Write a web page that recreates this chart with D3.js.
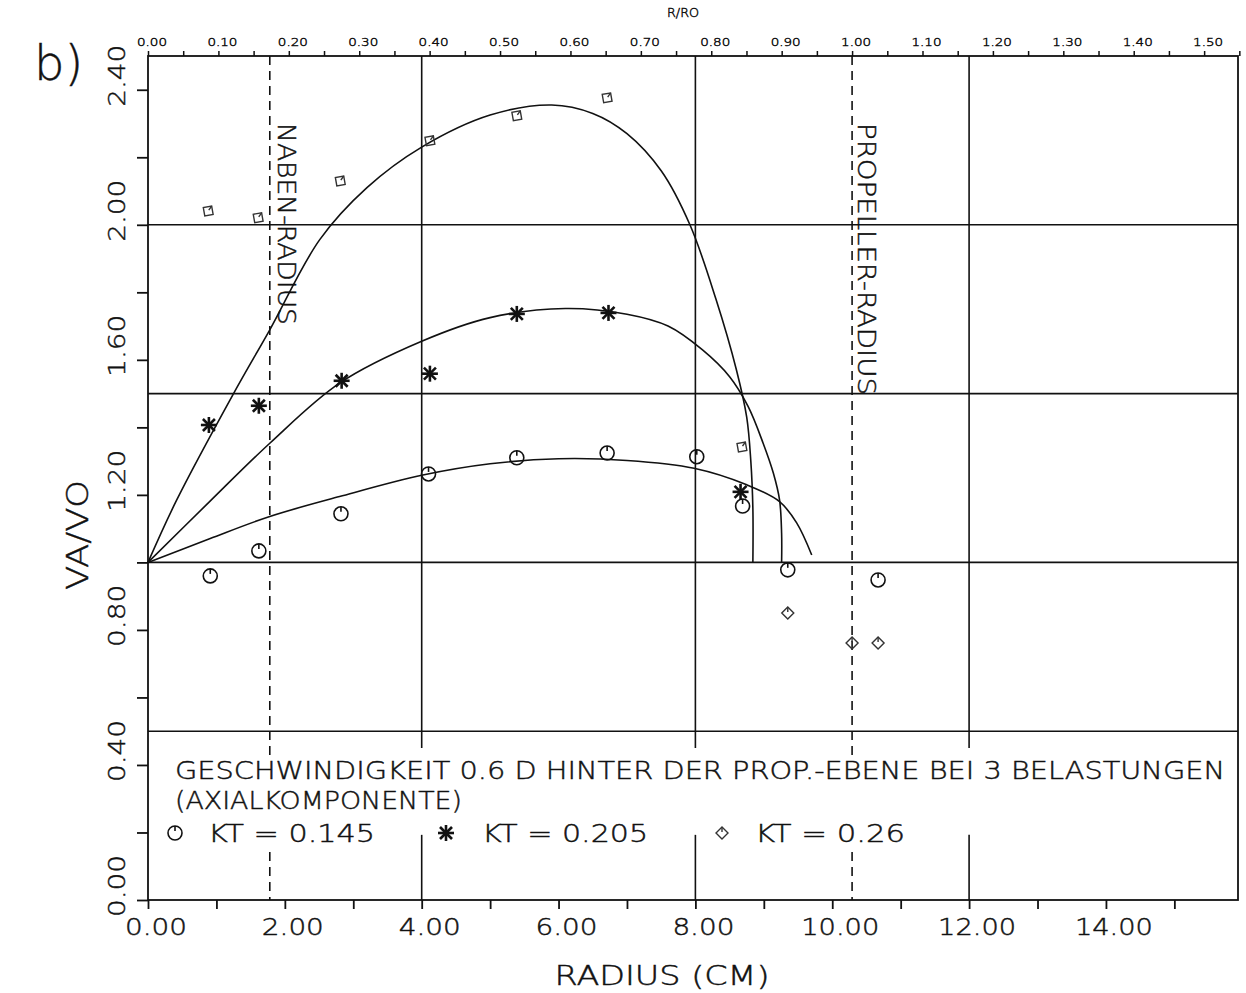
<!DOCTYPE html>
<html>
<head>
<meta charset="utf-8">
<script src="https://cdn.jsdelivr.net/npm/d3@7"></script>
<style>
  html, body { margin: 0; padding: 0; background: #fff; }
  svg { display: block; }
  .pt { font-family: "DejaVu Sans", "Liberation Sans", sans-serif; font-weight: 200; fill: #111; stroke: #111; stroke-width: 0.45; }
</style>
</head>
<body>
<svg id="chart" width="1246" height="993"></svg>
<script>
// ---- measured velocities VA/VO over radius (cm), three thrust loadings ----
const r145 = [0.91, 1.62, 2.82, 4.10, 5.39, 6.71, 8.02, 8.69, 9.35, 10.67];
const v145 = [0.96, 1.034, 1.144, 1.262, 1.31, 1.324, 1.313, 1.167, 0.978, 0.948];

const r205 = [0.89, 1.62, 2.83, 4.12, 5.39, 6.73, 8.66];
const v205 = [1.407, 1.464, 1.538, 1.559, 1.736, 1.739, 1.209];

const r26 = [0.88, 1.61, 2.81, 4.12, 5.39, 6.71, 8.68, 9.35, 10.29, 10.67];
const v26 = [2.041, 2.021, 2.13, 2.249, 2.323, 2.376, 1.342, 0.85, 0.761, 0.761];

// ---- faired curves through the measurements ----
const fitR145 = [0, 0.9, 1.78, 2.8, 4.0, 5.0, 6.0, 7.0, 7.98, 8.75, 9.23, 9.48, 9.70];
const fitV145 = [1.0, 1.07, 1.136, 1.195, 1.258, 1.292, 1.307, 1.302, 1.279, 1.23, 1.18, 1.117, 1.022];

const fitR205 = [0, 0.9, 1.78, 2.8, 4.0, 5.0, 6.1, 7.0, 7.6, 8.1, 8.5, 8.77, 8.99, 9.14, 9.23, 9.26, 9.26];
const fitV205 = [1.0, 1.18, 1.353, 1.531, 1.655, 1.725, 1.752, 1.735, 1.70, 1.63, 1.55, 1.462, 1.353, 1.264, 1.185, 1.086, 1.0];

const fitR26 = [0, 0.42, 1.25, 1.78, 2.51, 3.2, 4.0, 5.0, 5.9, 6.5, 7.0, 7.5, 7.92, 8.3, 8.6, 8.75, 8.81, 8.84, 8.84];
const fitV26 = [1.0, 1.185, 1.50, 1.689, 1.956, 2.11, 2.23, 2.325, 2.355, 2.33, 2.27, 2.16, 2.0, 1.78, 1.57, 1.43, 1.30, 1.16, 1.0];

// ---- axes, reference lines and labels ----
const hubRadius = 1.78;        // NABEN-RADIUS (cm)
const propRadius = 10.29;      // PROPELLER-RADIUS (cm) = R0
const xTicks = d3.range(0, 16, 1);
const xLabels = [0, 2, 4, 6, 8, 10, 12, 14];
const yTicks = d3.range(0, 2.41, 0.2);
const yLabels = [0, 0.4, 0.8, 1.2, 1.6, 2.0, 2.4];
const rTicks = d3.range(0, 1.551, 0.05);
const rLabels = [0, 0.1, 0.2, 0.3, 0.4, 0.5, 0.6, 0.7, 0.8, 0.9, 1.0, 1.1, 1.2, 1.3, 1.4, 1.5];
const gridX = [4, 8, 12];
const gridY = [0.5, 1.0, 1.5, 2.0];

const titleLine1 = "GESCHWINDIGKEIT 0.6 D HINTER DER PROP.-EBENE BEI 3 BELASTUNGEN";
const titleLine2 = "(AXIALKOMPONENTE)";
const legendLabels = ["KT = 0.145", "KT = 0.205", "KT = 0.26"];

const svg = d3.select("#chart");
const ink = "#111";

const plot = { left: 148, right: 1238, top: 56, bottom: 900 };
const xMax = 15.93;
const x = d3.scaleLinear().domain([0, xMax]).range([plot.left, plot.right]);
const y = d3.scaleLinear().domain([0, 2.5]).range([plot.bottom, plot.top]);
const xr = d3.scaleLinear().domain([0, xMax / propRadius]).range([plot.left, plot.right]);

// text with a fixed run length, like pen-plotter lettering
function ptext(g, str, px, py, size, len, anchor, rot) {
  const t = g.append("text").attr("class", "pt")
    .attr("font-size", size)
    .attr("text-anchor", anchor || "start")
    .text(str);
  if (len) t.attr("textLength", len).attr("lengthAdjust", "spacingAndGlyphs");
  if (rot) t.attr("transform", `translate(${px},${py}) rotate(${rot})`);
  else t.attr("x", px).attr("y", py);
  return t;
}

// frame
svg.append("rect")
  .attr("x", plot.left).attr("y", plot.top)
  .attr("width", plot.right - plot.left).attr("height", plot.bottom - plot.top)
  .attr("fill", "none").attr("stroke", ink).attr("stroke-width", 1.8);

// breaks in the vertical lines where the caption is written
const capTop = 0.45, capBottomSolid = 0.193, capBottomDash = 0.142;

// horizontal grid
svg.append("g").selectAll("line").data(gridY).join("line")
  .attr("x1", plot.left).attr("x2", plot.right)
  .attr("y1", d => y(d)).attr("y2", d => y(d))
  .attr("stroke", ink).attr("stroke-width", 1.6);

// vertical grid (two segments each)
const vg = svg.append("g");
gridX.forEach(v => {
  vg.append("line").attr("x1", x(v)).attr("x2", x(v)).attr("y1", y(2.5)).attr("y2", y(capTop))
    .attr("stroke", ink).attr("stroke-width", 1.6);
  vg.append("line").attr("x1", x(v)).attr("x2", x(v)).attr("y1", y(capBottomSolid)).attr("y2", y(0))
    .attr("stroke", ink).attr("stroke-width", 1.6);
});
[hubRadius, propRadius].forEach(v => {
  vg.append("line").attr("x1", x(v)).attr("x2", x(v)).attr("y1", y(2.5)).attr("y2", y(capTop - 0.03))
    .attr("stroke", ink).attr("stroke-width", 1.6).attr("stroke-dasharray", "9,6");
  vg.append("line").attr("x1", x(v)).attr("x2", x(v)).attr("y1", y(capBottomDash)).attr("y2", y(0))
    .attr("stroke", ink).attr("stroke-width", 1.6).attr("stroke-dasharray", "9,6");
});

// bottom axis
const gx = svg.append("g").attr("transform", `translate(0,${plot.bottom})`)
  .call(d3.axisBottom(x).tickValues(xTicks).tickSize(9).tickSizeOuter(0).tickFormat(""));
gx.select(".domain").remove();
gx.selectAll(".tick line").attr("stroke", ink).attr("stroke-width", 1.8);
xLabels.forEach(v => ptext(svg, d3.format(".2f")(v), x(v) + 8, 935, 23, v >= 10 ? 78 : 62, "middle"));

// top axis (R/R0)
const gt = svg.append("g").attr("transform", `translate(0,${plot.top})`)
  .call(d3.axisTop(xr).tickValues(rTicks).tickSize(5).tickSizeOuter(0).tickFormat(""));
gt.select(".domain").remove();
gt.selectAll(".tick line").attr("stroke", ink).attr("stroke-width", 1.5);
rLabels.forEach(v => ptext(svg, d3.format(".2f")(v), xr(v) + 4, 46, 11, 30, "middle")
  .attr("font-weight", 400).attr("stroke-width", 0.2));
ptext(svg, "R/RO", 683, 17, 12, 32, "middle").attr("font-weight", 700).attr("stroke-width", 0.2);

// left axis
const gy = svg.append("g").attr("transform", `translate(${plot.left},0)`)
  .call(d3.axisLeft(y).tickValues(yTicks).tickSize(11).tickSizeOuter(0).tickFormat(""));
gy.select(".domain").remove();
gy.selectAll(".tick line").attr("stroke", ink).attr("stroke-width", 1.8);
yLabels.forEach(v => ptext(svg, d3.format(".2f")(v), 125, y(v) - 14, 23, 62, "middle", -90));

// axis titles
ptext(svg, "VA/VO", 88, 535, 30, 110, "middle", -90);
ptext(svg, "RADIUS (CM)", 662, 985, 26, 215, "middle");
ptext(svg, "b)", 34, 80, 48, null, "start").attr("font-weight", 400).attr("stroke-width", 1.2);

// reference line labels
ptext(svg, "NABEN-RADIUS", x(hubRadius) + 8, 123, 24, 202, "start", 90);
ptext(svg, "PROPELLER-RADIUS", x(propRadius) + 6, 123, 24, 272, "start", 90);

// caption
ptext(svg, titleLine1, 175, 779, 25, 1050, "start");
ptext(svg, titleLine2, 175, 809, 25, 287, "start");
ptext(svg, legendLabels[0], 208, 842, 25, 167, "start");
ptext(svg, legendLabels[1], 482, 842, 25, 166, "start");
ptext(svg, legendLabels[2], 755, 842, 25, 150, "start");

// faired curves
const line = d3.line().x(d => x(d[0])).y(d => y(d[1])).curve(d3.curveCatmullRom.alpha(0.5));
[[fitR145, fitV145], [fitR205, fitV205], [fitR26, fitV26]].forEach(([rs, vs]) => {
  svg.append("path").datum(d3.zip(rs, vs))
    .attr("d", line).attr("fill", "none").attr("stroke", ink).attr("stroke-width", 1.6);
});

// marker symbols
function circleMark(g, cx, cy) {
  const m = g.append("g").attr("transform", `translate(${cx},${cy})`);
  m.append("circle").attr("r", 7).attr("fill", "none").attr("stroke", ink).attr("stroke-width", 1.6);
  m.append("line").attr("x1", 0).attr("x2", 0).attr("y1", -7).attr("y2", -2)
    .attr("stroke", ink).attr("stroke-width", 1.6);
}
function starMark(g, cx, cy) {
  const m = g.append("g").attr("transform", `translate(${cx},${cy})`);
  const s = 8;
  [[0, -s, 0, s], [-s, 0, s, 0], [-s * 0.75, -s * 0.75, s * 0.75, s * 0.75], [-s * 0.75, s * 0.75, s * 0.75, -s * 0.75]]
    .forEach(([a, b, c, d]) => m.append("line").attr("x1", a).attr("y1", b).attr("x2", c).attr("y2", d)
      .attr("stroke", ink).attr("stroke-width", 2.6));
}
function diamondMark(g, cx, cy, rot) {
  const m = g.append("g").attr("transform", `translate(${cx},${cy}) rotate(${rot || 0})`);
  m.append("path").attr("d", "M0,-6L6,0L0,6L-6,0Z")
    .attr("fill", "none").attr("stroke", "#333").attr("stroke-width", 1.4);
  m.append("line").attr("x1", 0).attr("x2", 0).attr("y1", -6).attr("y2", -1)
    .attr("stroke", "#333").attr("stroke-width", 1.4);
}

const marks = svg.append("g");
d3.zip(r145, v145).forEach(([r, v]) => circleMark(marks, x(r), y(v)));
d3.zip(r205, v205).forEach(([r, v]) => starMark(marks, x(r), y(v)));
d3.zip(r26, v26).forEach(([r, v]) => diamondMark(marks, x(r), y(v), r < 9 ? 35 : 0));

// legend symbols
circleMark(svg, 175, 833);
starMark(svg, 446, 833);
diamondMark(svg, 722, 833, 0);
</script>
</body>
</html>
